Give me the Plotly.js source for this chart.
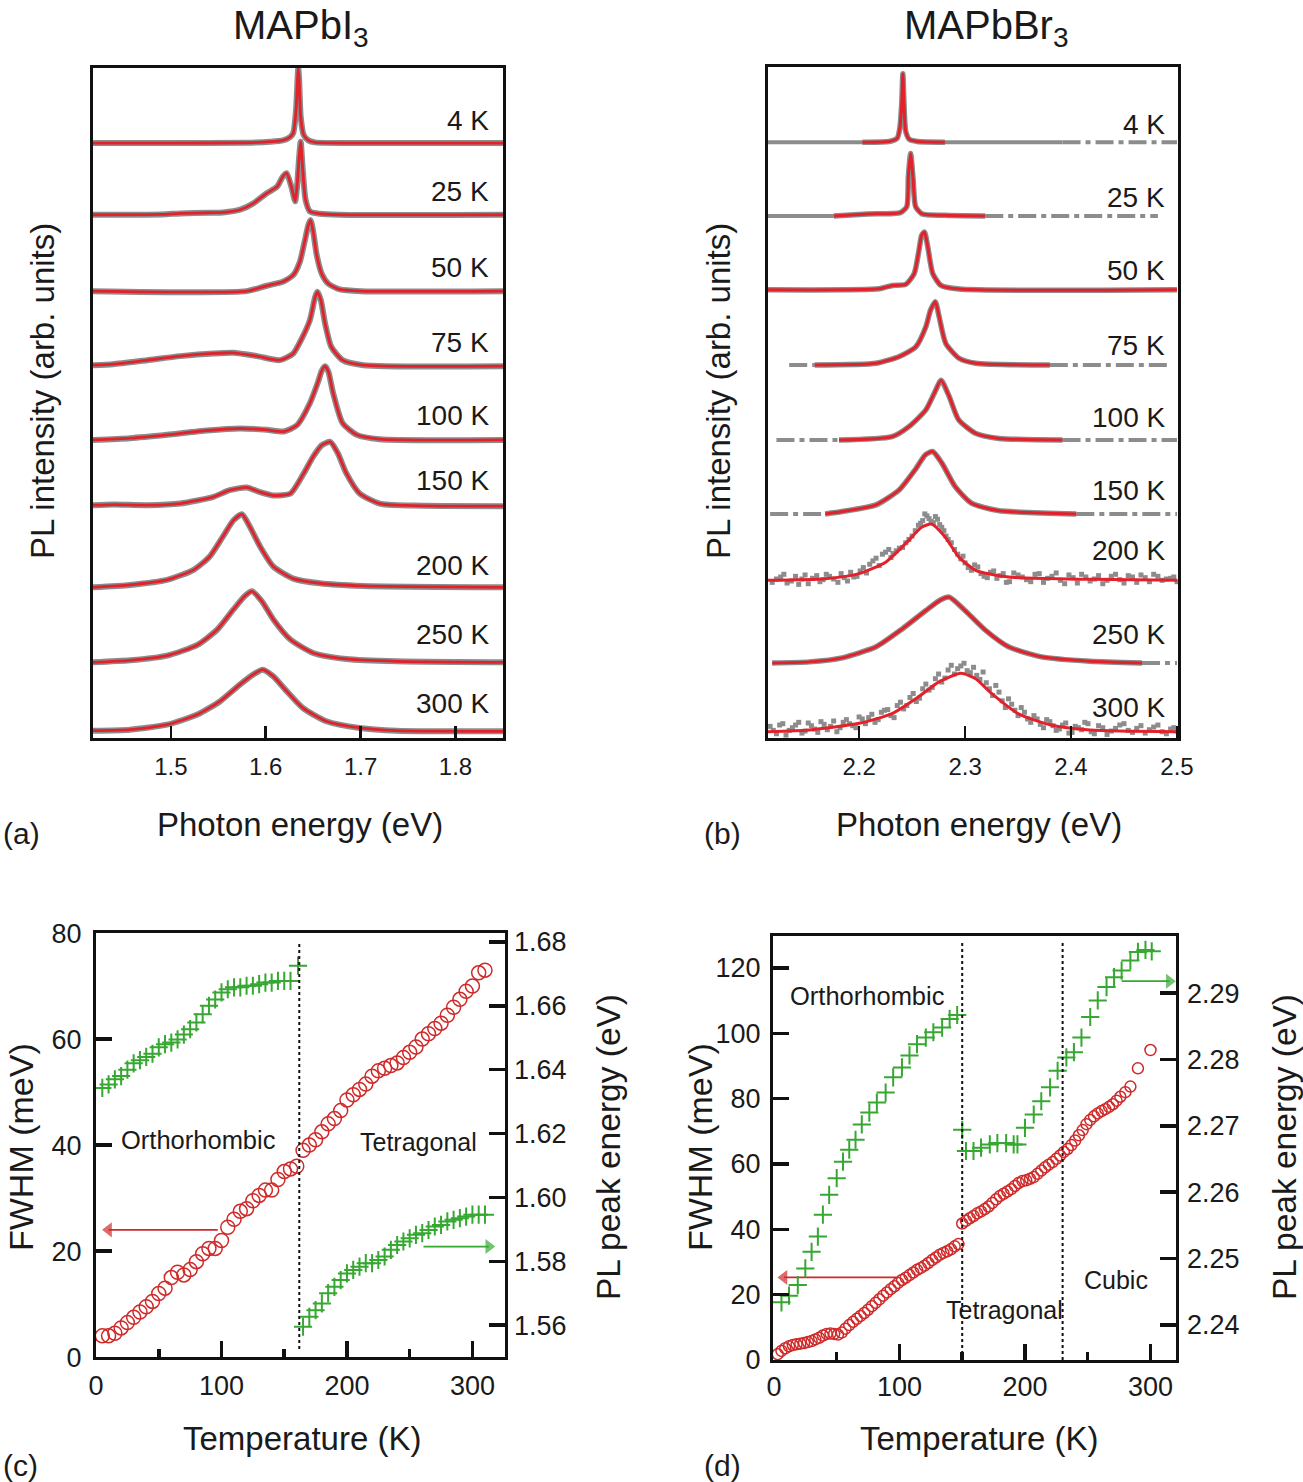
<!DOCTYPE html>
<html><head><meta charset="utf-8">
<script src="https://cdn.plot.ly/plotly-3.0.1.min.js"></script>
<style>html,body{margin:0;padding:0;background:#fff;} #chart{width:1303px;height:1482px;}</style>
</head><body><div id="chart"></div>
<script>
// ================= Panel (a): MAPbI3 PL spectra =================
const labelsA  = ['4 K','25 K','50 K','75 K','100 K','150 K','200 K','250 K','300 K'];
const offsetsA = [88.8, 78.1, 66.7, 55.5, 44.5, 34.6, 22.5, 11.3, 1.0];
const labelYA  = [92.2, 81.5, 70.3, 59.0, 48.2, 38.5, 25.8, 15.5, 5.2];

const energyA4   = [1.418,1.50,1.58,1.605,1.618,1.6256,1.629,1.632,1.6335,1.6343,1.6352,1.6368,1.640,1.645,1.652,1.70,1.85];
const intensA4   = [0,0,0.05,0.2,0.4,0.9,1.5,5,9.5,11.2,9.5,4,1.2,0.4,0.1,0,0];
const energyA25  = [1.418,1.49,1.51,1.54,1.555,1.573,1.587,1.601,1.612,1.618,1.622,1.627,1.631,1.633,1.635,1.6368,1.639,1.642,1.6466,1.657,1.678,1.85];
const intensA25  = [0,0.05,0.2,0.3,0.35,0.75,1.7,3.2,4.2,5.7,6.2,4.2,2.0,4.2,8.2,10.9,6.7,2.2,0.5,0.15,0,0];
const energyA50  = [1.418,1.58,1.601,1.618,1.629,1.636,1.641,1.645,1.6473,1.650,1.6537,1.659,1.666,1.678,1.70,1.85];
const intensA50  = [0,0,0.8,1.4,2.4,4.4,7.4,9.9,10.6,8.9,5.4,2.6,1.1,0.25,0,0];
const energyA75  = [1.418,1.439,1.475,1.51,1.545,1.566,1.591,1.615,1.629,1.639,1.6466,1.652,1.6544,1.658,1.6625,1.669,1.681,1.703,1.85];
const intensA75  = [0.15,0.3,0.9,1.5,1.9,2.0,1.5,0.9,1.9,4.4,6.9,10.3,11.1,9.9,6.4,2.9,0.9,0.15,0];
const energyA100 = [1.418,1.457,1.496,1.538,1.573,1.601,1.619,1.633,1.6466,1.655,1.659,1.6625,1.666,1.671,1.681,1.696,1.72,1.85];
const intensA100 = [0,0.25,0.75,1.4,1.7,1.5,1.25,2.2,5.5,8.6,10.3,11,10.2,7,2.5,0.75,0.1,0];
const energyA150 = [1.418,1.44,1.475,1.51,1.545,1.562,1.58,1.594,1.608,1.626,1.64,1.65,1.659,1.668,1.676,1.685,1.699,1.72,1.755,1.85];
const intensA150 = [0.15,0.25,0.15,0.4,1.4,2.4,2.8,2.1,1.6,1.9,4.9,7.4,9.1,9.6,7.9,4.9,1.9,0.4,0.1,0];
const energyA200 = [1.418,1.457,1.496,1.524,1.541,1.555,1.566,1.575,1.583,1.594,1.608,1.629,1.657,1.703,1.85];
const intensA200 = [0,0.35,1.1,2.6,4.6,7.6,10,10.9,9.1,6.1,3.1,1.3,0.6,0.2,0];
const energyA250 = [1.418,1.457,1.496,1.528,1.549,1.566,1.578,1.5856,1.596,1.608,1.626,1.65,1.685,1.738,1.85];
const intensA250 = [0,0.3,1.0,2.6,4.9,7.9,9.9,10.6,9.1,6.4,3.4,1.4,0.5,0.15,0];
const energyA300 = [1.418,1.457,1.496,1.528,1.552,1.573,1.587,1.5968,1.608,1.622,1.639,1.664,1.699,1.738,1.85];
const intensA300 = [0.1,0.25,1.0,2.5,4.5,7,8.5,9.2,8.2,6,3.5,1.5,0.5,0.1,0];

// ================= Panel (b): MAPbBr3 PL spectra =================
const labelsB  = ['4 K','25 K','50 K','75 K','100 K','150 K','200 K','250 K','300 K'];
const offsetsB = [88.8, 77.8, 66.8, 55.6, 44.4, 33.4, 23.5, 11.2, 0.94];
const labelYB  = [91.5, 80.6, 69.6, 58.5, 47.7, 36.9, 27.9, 15.5, 4.6];

const energyB4   = [2.203,2.228,2.236,2.2385,2.2403,2.2413,2.2423,2.2440,2.2475,2.255,2.281];
const intensB4   = [0,0.1,0.6,2.2,6,10.2,6,1.6,0.4,0.1,0];
const energyB25  = [2.176,2.208,2.239,2.245,2.2465,2.2486,2.251,2.2533,2.2595,2.28,2.319];
const intensB25  = [0,0.3,0.5,1.4,5.9,9.3,5.4,1.4,0.3,0.1,0];
const energyB50  = [2.114,2.219,2.2315,2.244,2.252,2.2565,2.259,2.2617,2.2648,2.2695,2.2773,2.2945,2.50];
const intensB50  = [0,0.15,0.65,0.8,2.4,5.9,8.1,8.6,6.4,2.4,0.65,0.1,0];
const energyB75  = [2.158,2.216,2.238,2.2535,2.263,2.2675,2.272,2.2755,2.2818,2.2943,2.31,2.38];
const intensB75  = [0,0.25,1.25,2.7,5.7,8.2,9.4,7.2,3.2,1,0.25,0];
const energyB100 = [2.181,2.231,2.247,2.263,2.271,2.2774,2.285,2.294,2.31,2.332,2.392];
const intensB100 = [0,0.5,2,4.5,7,8.9,6.5,3,1,0.25,0];
const energyB150 = [2.168,2.184,2.216,2.238,2.253,2.2625,2.2694,2.278,2.2905,2.306,2.331,2.405];
const intensB150 = [0,0.35,1.35,3.6,6.6,8.8,9.3,7.6,4.1,1.6,0.5,0];
const energyB200 = [2.114,2.168,2.2,2.225,2.244,2.259,2.2684,2.281,2.294,2.31,2.341,2.418,2.50];
const intensB200 = [0,0.25,1,2.7,5.5,7.9,8.4,6.5,3.5,1.5,0.5,0.15,0];
const energyB250 = [2.118,2.153,2.184,2.216,2.241,2.263,2.277,2.2851,2.30,2.319,2.341,2.372,2.418,2.467];
const intensB250 = [0,0.15,0.75,2.4,5.1,7.8,9.4,9.8,7.8,4.9,2.4,0.9,0.25,0];
const energyB300 = [2.114,2.153,2.2,2.231,2.256,2.275,2.2961,2.31,2.325,2.35,2.381,2.418,2.50];
const intensB300 = [0,0.25,1.25,2.7,5.2,7.4,8.7,7.9,5.7,2.7,1,0.25,0];

// measured-data tails outside the fitted range: [start, end, style]
const grayTailsB = [
  [[2.114,2.203,'solid'],[2.281,2.392,'solid'],[2.392,2.50,'broken']],
  [[2.114,2.176,'solid'],[2.319,2.482,'broken']],
  [],
  [[2.134,2.158,'broken'],[2.380,2.492,'broken']],
  [[2.122,2.181,'broken'],[2.392,2.50,'broken']],
  [[2.116,2.168,'broken'],[2.405,2.50,'broken']],
  [],
  [[2.467,2.50,'broken']],
  []
];
// noisy measured points (200 K and 300 K)
const noisyE200 = [2.118,2.122,2.126,2.129,2.132,2.136,2.140,2.143,2.146,2.149,2.152,2.156,2.160,2.163,2.166,2.169,2.172,2.176,2.180,2.183,2.186,2.189,2.192,2.195,2.198,2.201,2.204,2.207,2.210,2.213,2.216,2.219,2.222,2.225,2.228,2.230,2.232,2.235,2.238,2.241,2.244,2.247,2.250,2.253,2.256,2.258,2.260,2.262,2.264,2.266,2.268,2.270,2.272,2.274,2.276,2.278,2.280,2.282,2.284,2.287,2.290,2.293,2.296,2.298,2.300,2.303,2.306,2.309,2.312,2.315,2.318,2.321,2.324,2.327,2.330,2.333,2.336,2.339,2.342,2.346,2.350,2.354,2.358,2.362,2.366,2.370,2.374,2.378,2.382,2.386,2.390,2.394,2.398,2.402,2.406,2.410,2.414,2.418,2.422,2.426,2.430,2.434,2.438,2.442,2.446,2.450,2.454,2.458,2.462,2.466,2.470,2.474,2.478,2.482,2.486,2.490,2.494,2.497,2.500];
const noisyI200 = [-0.3,0.2,0.5,0.9,-0.4,-0.1,0.6,-0.6,0.2,0.8,-0.5,0.3,0.7,-0.2,0.1,0.9,0.6,0.2,-0.3,1.0,0.4,-0.1,1.2,0.5,0.6,1.4,1.9,1.1,2.4,2.9,3.3,2.2,3.9,4.2,4.6,3.4,4.0,4.4,4.8,4.9,5.6,6.1,6.6,7.4,8.2,8.5,8.9,9.9,9.6,9.2,8.8,8.6,9.5,9.1,8.3,7.9,7.4,6.6,6.1,5.6,4.6,3.9,3.2,3.6,2.6,1.9,1.5,2.3,2.0,1.0,0.6,0.4,1.2,1.4,0.3,0.7,1.0,-0.3,-0.2,1.1,0.8,0.5,0.1,-0.2,0.9,1.0,-0.3,0.3,0.6,1.1,0.0,-0.5,0.8,0.4,-0.4,0.9,0.5,-0.1,0.2,0.7,-0.5,0.0,0.6,0.9,0.1,-0.4,0.7,0.5,-0.3,0.8,0.4,-0.2,0.9,0.6,0.0,0.2,0.3,0.5,-0.2];
const noisyE300 = [2.116,2.119,2.122,2.125,2.128,2.131,2.134,2.137,2.140,2.143,2.146,2.149,2.152,2.155,2.158,2.161,2.164,2.167,2.170,2.173,2.176,2.179,2.182,2.185,2.188,2.191,2.194,2.197,2.200,2.203,2.206,2.209,2.212,2.215,2.218,2.221,2.224,2.227,2.230,2.233,2.236,2.239,2.242,2.245,2.248,2.251,2.254,2.257,2.260,2.263,2.266,2.269,2.272,2.275,2.278,2.281,2.284,2.287,2.290,2.293,2.296,2.299,2.302,2.305,2.308,2.311,2.314,2.317,2.320,2.323,2.326,2.329,2.332,2.335,2.338,2.341,2.344,2.347,2.350,2.353,2.356,2.359,2.362,2.365,2.368,2.371,2.374,2.377,2.380,2.383,2.386,2.389,2.392,2.395,2.398,2.401,2.404,2.407,2.410,2.413,2.416,2.419,2.422,2.426,2.430,2.434,2.438,2.442,2.446,2.450,2.454,2.458,2.462,2.466,2.470,2.474,2.478,2.482,2.486,2.490,2.494,2.497,2.500];
const noisyI300 = [0.8,0.2,-0.3,1.0,1.2,-0.5,0.2,0.6,1.0,1.4,-0.2,0.1,1.3,0.9,0.4,-0.1,1.5,1.1,0.3,0.8,1.6,0.0,0.6,1.4,1.8,1.2,0.9,0.6,2.2,1.9,1.2,2.1,2.6,1.4,1.8,2.9,3.2,3.3,2.4,2.1,3.9,4.4,3.4,3.9,5.1,5.7,4.5,5.0,6.4,7.1,6.2,6.6,7.9,8.6,7.4,8.0,9.2,9.9,8.6,9.4,9.8,10.2,9.1,8.8,9.6,8.4,7.8,8.9,7.3,6.4,5.4,6.9,5.9,4.6,3.6,4.9,4.1,3.2,2.4,3.6,2.9,1.9,1.4,2.4,1.9,1.1,0.6,1.8,1.5,0.9,0.2,0.4,1.0,1.3,-0.2,-0.1,0.8,0.6,0.3,1.4,1.2,0.0,-0.3,0.9,0.6,-0.4,0.1,0.5,1.0,1.2,0.2,-0.1,0.5,0.9,-0.2,0.3,0.7,1.0,0.0,-0.3,0.4,0.6,0.1];

// ================= Panel (c): MAPbI3 FWHM and peak energy =================
const tempFwhmC = [5,10,15,20,25,30,35,40,45,50,55,60,65,70,75,80,85,90,95,100,105,110,115,120,125,130,135,140,145,150,155,160,165,170,175,180,185,190,195,200,205,210,215,220,225,230,235,240,245,250,255,260,265,270,275,280,285,290,295,300,305,310];
const fwhmC     = [4,4,4.5,5.5,6.5,7.5,8.5,9.5,10.5,12,13,15,16,15.5,16.5,18,19.5,20.5,20.5,22,24.5,26,27.5,28,29.5,30.5,31.5,31.5,33.5,35,35.5,36,39,40,41,42.5,44,45,46.5,48.5,49.5,50.5,51.5,53,54,54.5,55,55.5,56.5,57.5,58.5,60,61,62,63,64.5,66,67.5,69,70,72.5,73];
const tempPeakC1 = [5,10,15,20,25,30,35,40,45,50,55,60,65,70,75,80,85,90,95,100,105,110,115,120,125,130,135,140,145,150,155,161];
const peakC1     = [1.6343,1.6354,1.637,1.638,1.640,1.642,1.643,1.644,1.645,1.647,1.648,1.6485,1.6495,1.651,1.6527,1.6548,1.6574,1.660,1.662,1.6642,1.6652,1.6658,1.6658,1.6663,1.6663,1.6668,1.6673,1.6673,1.6678,1.6678,1.6678,1.6726];
const tempPeakC2 = [165,170,175,180,185,190,195,200,205,210,215,220,225,230,235,240,245,250,255,260,265,270,275,280,285,290,295,300,305,310];
const peakC2     = [1.5595,1.5626,1.5647,1.5668,1.570,1.572,1.5741,1.5762,1.5773,1.5783,1.5794,1.5794,1.5804,1.5815,1.5836,1.5851,1.5862,1.5872,1.5883,1.5888,1.5898,1.5909,1.5914,1.5925,1.593,1.5935,1.594,1.5946,1.5946,1.5946];
const phaseTempC = [162];
// axis-pointer arrows: [tail T, head T, value]
const arrowFwhmC = [97, 10, 24];
const arrowPeakC = [261, 313, 1.5846];

// ================= Panel (d): MAPbBr3 FWHM and peak energy =================
const tempFwhmD = [3,6,9,12,15,18,21,24,27,30,33,36,39,42,45,48,51,54,57,60,63,66,69,72,75,78,81,84,87,90,93,96,99,102,105,108,111,114,117,120,123,126,129,132,135,138,141,144,147,
                   150,153,156,159,162,165,168,171,174,177,180,183,186,189,192,195,198,201,204,207,210,213,216,219,222,225,228,231,234,237,240,243,246,249,252,255,258,261,264,267,270,273,276,280,284,290,300];
const fwhmD     = [1.8,2.8,3.6,4.2,4.6,4.8,5.0,5.2,5.5,5.8,6.3,6.8,7.5,8.0,8.1,8.0,7.8,8.4,9.6,10.7,11.7,12.6,13.5,14.4,15.4,16.5,17.5,18.6,19.7,20.7,21.7,22.6,23.6,24.5,25.2,26.0,26.8,27.6,28.2,28.9,29.7,30.6,31.4,32.2,32.8,33.3,33.9,34.8,35.5,
                   41.8,42.6,43.4,44.1,44.9,45.5,46.2,47.0,48.1,49.2,50.2,50.9,51.6,52.3,53.3,54.2,54.8,55.0,55.5,56.0,57.0,58.0,59.0,59.8,60.6,61.6,62.6,63.7,64.6,65.8,67.2,68.8,70.4,72.2,73.5,74.6,75.5,76.2,76.8,77.5,78.3,79.4,80.6,82.0,83.7,89.3,94.9];
const tempPeakD1 = [6,12,19,25,30,35,39,44,50,55,60,65,70,76,82,89,95,102,108,114,121,127,134,140,146];
const peakD1     = [2.2434,2.2444,2.246,2.2485,2.251,2.2533,2.2566,2.2596,2.2621,2.2646,2.2664,2.2679,2.2702,2.272,2.2735,2.275,2.2773,2.2788,2.2806,2.2823,2.2833,2.2841,2.2848,2.2861,2.2867];
const tempPeakD2 = [150,153,159,165,172,178,185,191,194,200,207,213,220,226,233,239,245,252,258,265,271,277,284,290,296,301];
const peakD2     = [2.2694,2.2662,2.2662,2.2667,2.2672,2.2674,2.2674,2.2672,2.2672,2.2697,2.2717,2.2737,2.2758,2.2783,2.2803,2.2811,2.2833,2.2864,2.2889,2.2909,2.2924,2.2934,2.2949,2.2962,2.2965,2.2963];
const phaseTempD = [150, 230];
const arrowFwhmD = [98, 8, 25.3];
const arrowPeakD = [277, 315, 2.2918];

// ================= styling =================
const FONT = 'Liberation Sans, Arial, Helvetica, sans-serif';
const TXT = '#1a1a1a';
const RED = '#e3212b';
const GRAY = '#8c8c8c';
const CRED = '#cf2a2a';
const CGREEN = '#36a832';

const traces = [];
const annotations = [];
const shapes = [];

// (a)
const energiesA = [energyA4,energyA25,energyA50,energyA75,energyA100,energyA150,energyA200,energyA250,energyA300];
const intensA   = [intensA4,intensA25,intensA50,intensA75,intensA100,intensA150,intensA200,intensA250,intensA300];
energiesA.forEach((ex,i)=>{
  const yy = intensA[i].map(v=>v+offsetsA[i]);
  traces.push({x:ex,y:yy,xaxis:'x',yaxis:'y',mode:'lines',line:{color:GRAY,width:6,shape:'spline',smoothing:0.6},hoverinfo:'skip'});
  traces.push({x:ex,y:yy,xaxis:'x',yaxis:'y',mode:'lines',line:{color:RED,width:2.8,shape:'spline',smoothing:0.6},hoverinfo:'skip'});
  annotations.push({xref:'x',yref:'y',x:1.837,y:labelYA[i],text:labelsA[i],showarrow:false,xanchor:'right',yanchor:'middle',font:{family:FONT,size:28,color:TXT}});
});

// (b)
const energiesB = [energyB4,energyB25,energyB50,energyB75,energyB100,energyB150,energyB200,energyB250,energyB300];
const intensB   = [intensB4,intensB25,intensB50,intensB75,intensB100,intensB150,intensB200,intensB250,intensB300];
energiesB.forEach((ex,i)=>{
  const off = offsetsB[i];
  grayTailsB[i].forEach(seg=>{
    traces.push({x:[seg[0],seg[1]],y:[off,off],xaxis:'x2',yaxis:'y2',mode:'lines',
      line:{color:GRAY,width:4,dash: seg[2]==='solid'?'solid':'18px,5px,5px,5px'},hoverinfo:'skip'});
  });
  const yy = intensB[i].map(v=>v+off);
  if (i===6 || i===8) {
    const ne = i===6 ? noisyE200 : noisyE300;
    const ni = i===6 ? noisyI200 : noisyI300;
    traces.push({x:ne,y:ni.map(v=>v+off),xaxis:'x2',yaxis:'y2',mode:'markers',marker:{symbol:'square',size:5,color:GRAY},hoverinfo:'skip'});
  } else {
    traces.push({x:ex,y:yy,xaxis:'x2',yaxis:'y2',mode:'lines',line:{color:GRAY,width:5.5,shape:'spline',smoothing:0.6},hoverinfo:'skip'});
  }
  traces.push({x:ex,y:yy,xaxis:'x2',yaxis:'y2',mode:'lines',line:{color:RED,width:3,shape:'spline',smoothing:0.6},hoverinfo:'skip'});
  annotations.push({xref:'x2',yref:'y2',x:2.4905,y:labelYB[i],text:labelsB[i],showarrow:false,xanchor:'right',yanchor:'middle',font:{family:FONT,size:28,color:TXT}});
});

function arrowTrace(arr, xa, ya, color, head){
  return {x:[arr[0],arr[1]],y:[arr[2],arr[2]],xaxis:xa,yaxis:ya,mode:'lines+markers',
    line:{color:color,width:1.8},marker:{symbol:['circle',head],size:[0,13],color:color,line:{width:0}},hoverinfo:'skip',cliponaxis:false};
}

// (c)
traces.push({x:tempFwhmC,y:fwhmC,xaxis:'x3',yaxis:'y3',mode:'markers',marker:{symbol:'circle-open',size:14,color:CRED,line:{width:1.5,color:CRED}},hoverinfo:'skip'});
traces.push({x:tempPeakC1,y:peakC1,xaxis:'x3',yaxis:'y4',mode:'markers',marker:{symbol:'cross-thin-open',size:13,color:CGREEN,line:{width:2,color:CGREEN}},hoverinfo:'skip'});
traces.push({x:tempPeakC2,y:peakC2,xaxis:'x3',yaxis:'y4',mode:'markers',marker:{symbol:'cross-thin-open',size:13,color:CGREEN,line:{width:2,color:CGREEN}},hoverinfo:'skip'});
traces.push(arrowTrace(arrowFwhmC,'x3','y3',CRED,'triangle-left'));
traces.push(arrowTrace(arrowPeakC,'x3','y4',CGREEN,'triangle-right'));
phaseTempC.forEach(t=>shapes.push({type:'line',xref:'x3',yref:'y3',x0:t,x1:t,y0:1.5,y1:78.5,line:{color:'#111',width:2,dash:'dot'}}));

// (d)
traces.push({x:tempFwhmD,y:fwhmD,xaxis:'x4',yaxis:'y5',mode:'markers',marker:{symbol:'circle-open',size:11,color:CRED,line:{width:1.5,color:CRED}},hoverinfo:'skip'});
traces.push({x:tempPeakD1,y:peakD1,xaxis:'x4',yaxis:'y6',mode:'markers',marker:{symbol:'cross-thin-open',size:13,color:CGREEN,line:{width:2,color:CGREEN}},hoverinfo:'skip'});
traces.push({x:tempPeakD2,y:peakD2,xaxis:'x4',yaxis:'y6',mode:'markers',marker:{symbol:'cross-thin-open',size:13,color:CGREEN,line:{width:2,color:CGREEN}},hoverinfo:'skip'});
traces.push(arrowTrace(arrowFwhmD,'x4','y5',CRED,'triangle-left'));
traces.push(arrowTrace(arrowPeakD,'x4','y6',CGREEN,'triangle-right'));
phaseTempD.forEach(t=>shapes.push({type:'line',xref:'x4',yref:'y5',x0:t,x1:t,y0:0,y1:128.5,line:{color:'#111',width:2,dash:'dot'}}));

// text annotations (paper coordinates)
function pa(text,px,py,size,opts){
  annotations.push(Object.assign({xref:'paper',yref:'paper',x:px/1303,y:1-py/1482,text:text,showarrow:false,
    xanchor:'center',yanchor:'middle',font:{family:FONT,size:size,color:TXT}},opts||{}));
}
pa('MAPbI<sub>3</sub>',301,28,40);
pa('MAPbBr<sub>3</sub>',986,28,40);
pa('PL intensity (arb. units)',42,391,33,{textangle:-90});
pa('PL intensity (arb. units)',718,391,33,{textangle:-90});
pa('Photon energy (eV)',300,824,33);
pa('Photon energy (eV)',979,824,33);
pa('(a)',21,833,30);
pa('(b)',722,833,30);
pa('FWHM (meV)',21,1147,34,{textangle:-90});
pa('PL peak energy (eV)',608,1147,33.5,{textangle:-90});
pa('Temperature (K)',302,1438,33);
pa('(c)',20,1465,30);
pa('FWHM (meV)',700,1147,34,{textangle:-90});
pa('PL peak energy (eV)',1284,1147,33.5,{textangle:-90});
pa('Temperature (K)',979,1438,33);
pa('(d)',722,1465,30);
pa('Orthorhombic',198,1140,25.5);
pa('Tetragonal',418,1142,25);
pa('Orthorhombic',867,996,25.5);
pa('Tetragonal',1004,1310,25);
pa('Cubic',1116,1280,25);

const frame = {showline:true,mirror:true,linewidth:3,linecolor:'#111',showgrid:false,zeroline:false};
const tf = (s)=>({family:FONT,size:s,color:TXT});

const layout = {
  width:1303,height:1482,margin:{l:0,r:0,t:0,b:0},showlegend:false,
  paper_bgcolor:'#fff',plot_bgcolor:'rgba(0,0,0,0)',font:{family:FONT,color:TXT},
  xaxis: Object.assign({domain:[0.0714,0.3860],anchor:'y',range:[1.418,1.85],tickmode:'array',tickvals:[1.5,1.6,1.7,1.8],ticktext:['1.5','1.6','1.7','1.8'],
    ticks:'inside',ticklen:12,tickwidth:2.5,tickcolor:'#111',tickfont:tf(24),ticklabelstandoff:5},frame),
  yaxis: Object.assign({domain:[0.5020,0.9541],anchor:'x',range:[0,100],showticklabels:false,ticks:''},frame),
  xaxis2: Object.assign({domain:[0.5894,0.9041],anchor:'y2',range:[2.114,2.501],tickmode:'array',tickvals:[2.2,2.3,2.4,2.5],ticktext:['2.2','2.3','2.4','2.5'],
    ticks:'inside',ticklen:12,tickwidth:2.5,tickcolor:'#111',tickfont:tf(24),ticklabelstandoff:5},frame),
  yaxis2: Object.assign({domain:[0.5020,0.9548],anchor:'x2',range:[0,100],showticklabels:false,ticks:''},frame),
  xaxis3: Object.assign({domain:[0.0737,0.3876],anchor:'y3',range:[0,326],tickmode:'linear',tick0:0,dtick:100,
    ticks:'inside',ticklen:16,tickwidth:3.5,tickcolor:'#111',tickfont:tf(27),ticklabelstandoff:3,
    minor:{dtick:50,ticks:'inside',ticklen:8,tickwidth:3.5,tickcolor:'#111'}},frame),
  yaxis3: Object.assign({domain:[0.0843,0.3704],anchor:'x3',range:[0,80],tickmode:'linear',tick0:0,dtick:20,
    ticks:'inside',ticklen:16,tickwidth:3.5,tickcolor:'#111',tickfont:tf(27),ticklabelstandoff:6},frame),
  yaxis4: {overlaying:'y3',anchor:'x3',side:'right',range:[1.550,1.6828],tickmode:'array',tickvals:[1.56,1.58,1.60,1.62,1.64,1.66,1.68],
    ticktext:['1.56','1.58','1.60','1.62','1.64','1.66','1.68'],ticks:'inside',ticklen:16,tickwidth:3.5,tickcolor:'#111',tickfont:tf(27),
    showline:false,showgrid:false,zeroline:false,ticklabelstandoff:8},
  xaxis4: Object.assign({domain:[0.5932,0.9025],anchor:'y5',range:[-0.8,320.3],tickmode:'linear',tick0:0,dtick:100,
    ticks:'inside',ticklen:16,tickwidth:3.5,tickcolor:'#111',tickfont:tf(27),ticklabelstandoff:1,
    minor:{dtick:50,ticks:'inside',ticklen:8,tickwidth:3.5,tickcolor:'#111'}},frame),
  yaxis5: Object.assign({domain:[0.0823,0.3684],anchor:'x4',range:[0,129.8],tickmode:'linear',tick0:0,dtick:20,
    ticks:'inside',ticklen:16,tickwidth:3.5,tickcolor:'#111',tickfont:tf(27),ticklabelstandoff:4},frame),
  yaxis6: {overlaying:'y5',anchor:'x4',side:'right',range:[2.2347,2.2986],tickmode:'array',tickvals:[2.24,2.25,2.26,2.27,2.28,2.29],
    ticktext:['2.24','2.25','2.26','2.27','2.28','2.29'],ticks:'inside',ticklen:16,tickwidth:3.5,tickcolor:'#111',tickfont:tf(27),
    showline:false,showgrid:false,zeroline:false,ticklabelstandoff:10},
  annotations:annotations,
  shapes:shapes
};

Plotly.newPlot('chart',traces,layout,{displayModeBar:false,staticPlot:true});
</script>
</body></html>
